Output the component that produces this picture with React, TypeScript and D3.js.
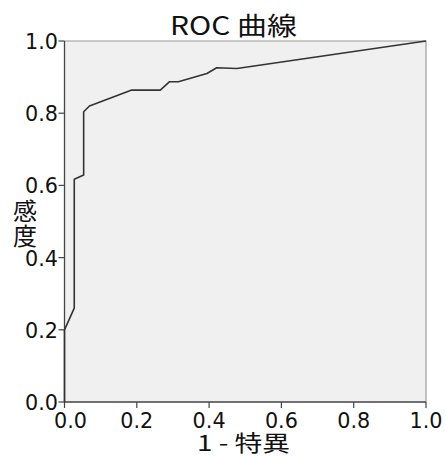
import React from 'react';
import * as d3 from 'd3';

// ROC curve points (1 - specificity, sensitivity)
const fpr = [0, 0, 0.027, 0.027, 0.053, 0.053, 0.069, 0.186, 0.265, 0.29, 0.315, 0.394, 0.421, 0.477, 1];
const tpr = [0, 0.2, 0.26, 0.617, 0.629, 0.804, 0.82, 0.864, 0.864, 0.887, 0.887, 0.91, 0.926, 0.924, 1];
const ticks = [0, 0.2, 0.4, 0.6, 0.8, 1.0];
const tickLabels = ['0.0', '0.2', '0.4', '0.6', '0.8', '1.0'];

const title = 'ROC 曲線';
const xTitle = '1 - 特異';
const yTitle = ['感', '度'];

const App = () => {
  const width = 446;
  const height = 456;
  const margins = { top: 41, right: 20, bottom: 54, left: 64.5 };
  const x = d3.scaleLinear().domain([0, 1]).range([margins.left, width - margins.right]);
  const y = d3.scaleLinear().domain([0, 1]).range([height - margins.bottom, margins.top]);
  const line = d3.line<number>().x((d, i) => x(fpr[i])).y((d, i) => y(tpr[i]));
  const font = '"Liberation Sans Narrow", "DejaVu Sans", sans-serif';
  const cjk = '"Noto Sans CJK JP", sans-serif';

  return (
    <svg width={width} height={height} style={{ position: 'fixed', left: 0, top: 0 }}>
      <rect x={0} y={0} width={width} height={height} fill="#ffffff" />
      <rect x={x(0)} y={y(1)} width={x(1) - x(0)} height={y(0) - y(1)} fill="#f0f0f0" />
      {/* top / right border lighter */}
      <path d={`M${x(0)},${y(1)}H${x(1)}V${y(0)}`} fill="none" stroke="#9a9a9a" strokeWidth={1.2} />
      {/* left / bottom axes */}
      <path d={`M${x(0)},${y(1)}V${y(0)}H${x(1)}`} fill="none" stroke="#444" strokeWidth={1.3} />

      {ticks.map((t, i) => (
        <g key={'y' + i}>
          <line x1={x(0) - 6} x2={x(0)} y1={y(t)} y2={y(t)} stroke="#444" strokeWidth={1.2} />
          <text x={58} y={y(t) + 8} textAnchor="end" fontFamily={font} fontSize={22}
            textLength={33} lengthAdjust="spacingAndGlyphs" fill="#111">{tickLabels[i]}</text>
        </g>
      ))}
      {ticks.map((t, i) => (
        <g key={'x' + i}>
          <line x1={x(t)} x2={x(t)} y1={y(0)} y2={y(0) + 6} stroke="#444" strokeWidth={1.2} />
          <text x={i === 0 ? x(t) + 6 : x(t)} y={428} textAnchor="middle" fontFamily={font} fontSize={22}
            textLength={33} lengthAdjust="spacingAndGlyphs" fill="#111">{tickLabels[i]}</text>
        </g>
      ))}

      <path d={line(fpr) || ''} fill="none" stroke="#333" strokeWidth={1.6} strokeLinejoin="round" />

      <text x={233.5} y={35} textAnchor="middle" fontFamily={cjk} fontSize={25}
        textLength={127} lengthAdjust="spacingAndGlyphs" fill="#111">{title}</text>
      <text x={243.5} y={451} textAnchor="middle" fontFamily={cjk} fontSize={22}
        textLength={93} lengthAdjust="spacingAndGlyphs" fill="#111">{xTitle}</text>
      {yTitle.map((c, i) => (
        <text key={c} x={25} y={220 + i * 25} textAnchor="middle" fontFamily={cjk} fontSize={24} fill="#111">{c}</text>
      ))}
    </svg>
  );
};

export default App;
